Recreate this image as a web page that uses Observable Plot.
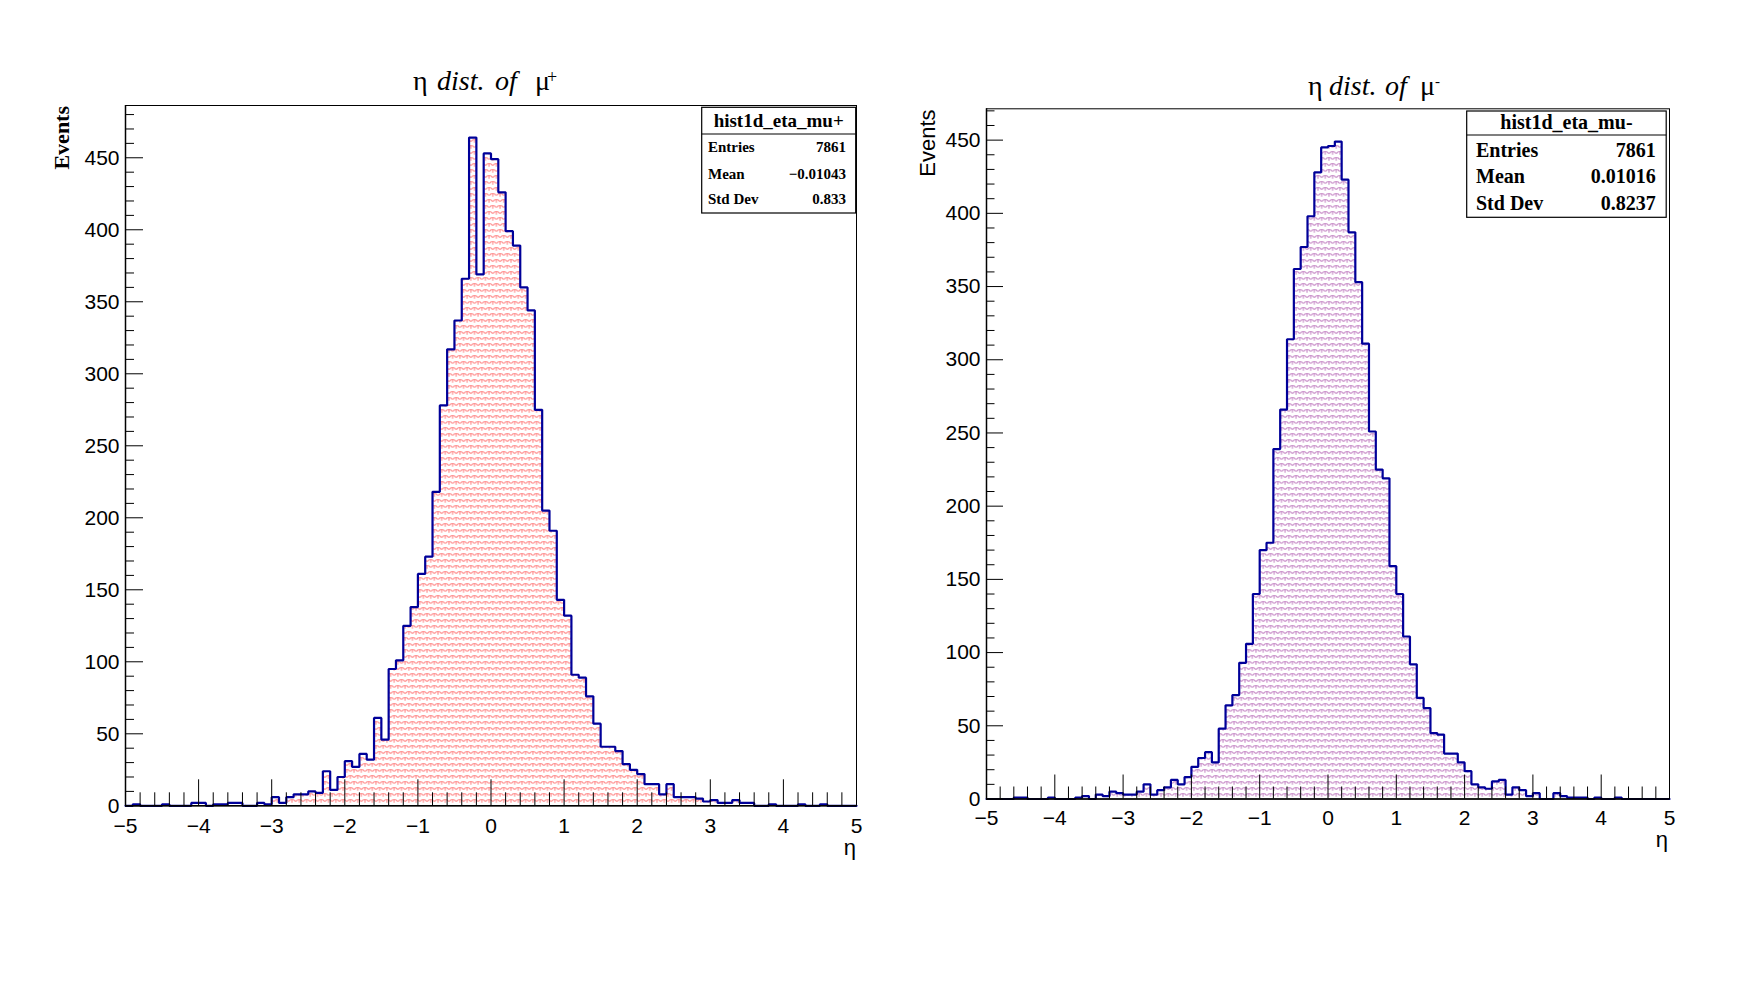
<!DOCTYPE html>
<html><head><meta charset="utf-8">
<script src="https://cdn.jsdelivr.net/npm/d3@7"></script>
<script src="https://cdn.jsdelivr.net/npm/@observablehq/plot@0.6"></script>
<style>
html,body{margin:0;padding:0;background:#fff;}
#root{position:relative;width:1743px;height:990px;overflow:hidden;background:#fff;}
#root > svg{position:absolute;top:0;}
</style></head><body><div id="root"></div>
<script>
// ---- data ----
const etaBinLow = [-5.0,-4.9,-4.8,-4.7,-4.6,-4.5,-4.4,-4.3,-4.2,-4.1,
  -4.0,-3.9,-3.8,-3.7,-3.6,-3.5,-3.4,-3.3,-3.2,-3.1,
  -3.0,-2.9,-2.8,-2.7,-2.6,-2.5,-2.4,-2.3,-2.2,-2.1,
  -2.0,-1.9,-1.8,-1.7,-1.6,-1.5,-1.4,-1.3,-1.2,-1.1,
  -1.0,-0.9,-0.8,-0.7,-0.6,-0.5,-0.4,-0.3,-0.2,-0.1,
  0.0,0.1,0.2,0.3,0.4,0.5,0.6,0.7,0.8,0.9,
  1.0,1.1,1.2,1.3,1.4,1.5,1.6,1.7,1.8,1.9,
  2.0,2.1,2.2,2.3,2.4,2.5,2.6,2.7,2.8,2.9,
  3.0,3.1,3.2,3.3,3.4,3.5,3.6,3.7,3.8,3.9,
  4.0,4.1,4.2,4.3,4.4,4.5,4.6,4.7,4.8,4.9];
const binWidth = 0.1;

const muPlusCounts = [0,1,0,0,0,1,0,0,0,2,
  2,0,1,1,2,2,0,0,2,1,
  6,2,6,8,8,10,9,24,11,20,
  31,27,36,32,61,46,95,101,125,138,
  161,173,218,278,317,337,366,464,369,453,
  449,426,399,389,360,344,275,205,191,143,
  132,91,89,76,57,41,41,38,29,25,
  22,15,15,8,15,6,6,6,5,3,
  4,2,2,4,2,2,0,0,1,0,
  0,0,1,0,0,1,0,0,0,0];

const muMinusCounts = [0,0,0,0,1,1,0,0,0,1,
  0,0,0,1,2,0,3,2,5,4,
  3,3,5,10,3,6,8,13,10,15,
  22,28,32,25,48,64,71,93,106,140,
  170,175,239,266,314,362,377,398,428,445,
  446,449,423,387,353,311,251,225,219,159,
  140,111,92,69,62,45,44,31,31,25,
  19,10,8,7,12,13,3,8,6,2,
  4,0,0,4,2,1,1,1,0,1,
  0,0,1,0,0,0,0,0,0,0];

const xTicks = [-5,-4,-3,-2,-1,0,1,2,3,4,5];
const xTickLabels = ["\u22125","\u22124","\u22123","\u22122","\u22121","0","1","2","3","4","5"];
const yTicks = [0,50,100,150,200,250,300,350,400,450];
const yTickLabels = ["0","50","100","150","200","250","300","350","400","450"];

const statLabels = ["Entries","Mean","Std Dev"];
const statsPlus = ["7861","\u22120.01043","0.833"];
const statsMinus = ["7861","0.01016","0.8237"];
const histNames = ["hist1d_eta_mu+","hist1d_eta_mu-"];

// ---- drawing ----
const root = document.getElementById("root");
const SANS = "'Liberation Sans', Arial, Helvetica, sans-serif";
const SERIF = "'Liberation Serif', 'Times New Roman', Times, serif";

function histPlot(cfg) {
  const rows = etaBinLow.map((lo, i) => ({x1: lo, x2: lo + binWidth, y: cfg.counts[i]}));
  const outline = rows.flatMap(d => [{x: d.x1, y: d.y}, {x: d.x2, y: d.y}]);
  const fw = cfg.frameRight - cfg.frameLeft;
  const fh = cfg.frameBottom - cfg.frameTop;
  const xMinor = d3.range(-5, 5.0001, 0.2).map(v => +v.toFixed(1)).filter(v => !xTicks.includes(v));
  const yMinor = d3.range(0, cfg.ymax, 10).filter(v => v % 50 !== 0);
  const svg = Plot.plot({
    width: cfg.width,
    height: cfg.height,
    marginLeft: cfg.frameLeft - cfg.left,
    marginRight: cfg.left + cfg.width - cfg.frameRight,
    marginTop: cfg.frameTop,
    marginBottom: cfg.height - cfg.frameBottom,
    x: {domain: [-5, 5], label: null},
    y: {domain: [0, cfg.ymax], label: null},
    style: {fontFamily: SANS, background: "transparent", overflow: "visible", color: "black"},
    marks: [
      Plot.rectY(rows, {x1: "x1", x2: "x2", y: "y", fill: `url(#${cfg.patId})`, shapeRendering: "crispEdges"}),
      Plot.line(outline, {x: "x", y: "y", stroke: "#000099", strokeWidth: 2.2, strokeLinejoin: "miter"}),
      Plot.frame({stroke: "black", strokeWidth: 1}),
      Plot.ruleX([-5], {stroke: "black", strokeWidth: 1.5}),
      Plot.ruleY([0], {stroke: "black", strokeWidth: 1.5}),
      Plot.tickY(yMinor, {y: d => d, insetRight: fw - cfg.yMinorLen, stroke: "black", strokeWidth: 1}),
      Plot.tickY(yTicks, {y: d => d, insetRight: fw - cfg.yMajorLen, stroke: "black", strokeWidth: 1}),
      Plot.tickX(xMinor, {x: d => d, insetTop: fh - cfg.xMinorLen, stroke: "black", strokeWidth: 1}),
      Plot.tickX(xTicks, {x: d => d, insetTop: fh - cfg.xMajorLen, stroke: "black", strokeWidth: 1}),
      Plot.axisY(yTicks, {tickSize: 0, tickPadding: 6, fontSize: cfg.yFont, label: null,
        tickFormat: d => yTickLabels[yTicks.indexOf(d)]}),
      Plot.axisX(xTicks, {tickSize: 0, tickPadding: cfg.xPad, fontSize: cfg.xFont, label: null,
        tickFormat: d => xTickLabels[xTicks.indexOf(d)]})
    ]
  });
  // scale-like hatch pattern
  const defs = d3.select(svg).insert("defs", ":first-child");
  const pat = defs.append("pattern").attr("id", cfg.patId).attr("patternUnits", "userSpaceOnUse")
    .attr("width", 7.3).attr("height", 12);
  const motif = (cx, cy) => `M${cx-3.2},${cy+2.2} Q${cx-2.8},${cy} ${cx},${cy} Q${cx+2.8},${cy} ${cx+3.2},${cy+2.2} M${cx},${cy} V${cy+3.2}`;
  pat.append("path").attr("d", motif(3.65, 1.5) + motif(0, 7.5) + motif(7.3, 7.5))
    .attr("fill", "none").attr("stroke", cfg.patColor).attr("stroke-width", 1.15);
  svg.style.left = cfg.left + "px";
  root.appendChild(svg);
}

histPlot({counts: muPlusCounts, left: 0, width: 880, height: 990,
  frameLeft: 125, frameRight: 856, frameTop: 105, frameBottom: 805.3, ymax: 486.3,
  patId: "patPlus", patColor: "#ff8f8f",
  yMajorLen: 18, yMinorLen: 9, xMajorLen: 26, xMinorLen: 13, yFont: 21, xFont: 21, xPad: 12});

histPlot({counts: muMinusCounts, left: 880, width: 863, height: 990,
  frameLeft: 986, frameRight: 1669, frameTop: 108.3, frameBottom: 798.5, ymax: 471.4,
  patId: "patMinus", patColor: "#c98fc9",
  yMajorLen: 17, yMinorLen: 8.5, xMajorLen: 24, xMinorLen: 12, yFont: 21, xFont: 21, xPad: 11});

// ---- overlay: titles, axis titles, stats boxes ----
const ov = d3.create("svg").attr("width", 1743).attr("height", 990)
  .style("left", "0px").style("pointer-events", "none");

function title(x, baseline, parts) {
  const t = ov.append("text").attr("y", baseline).attr("font-family", SERIF).attr("font-size", 28).attr("fill", "black");
  parts.forEach(p => {
    const s = t.append("tspan").attr("x", p.x).attr("y", p.y ?? baseline).text(p.t);
    if (p.italic) s.attr("font-style", "italic");
    if (p.size) s.attr("font-size", p.size);
  });
}
title(413, 90, [
  {t: "\u03b7", x: 413}, {t: "dist.", x: 437, italic: true}, {t: "of", x: 495, italic: true},
  {t: "\u03bc", x: 535}, {t: "+", x: 547, y: 83, size: 18}
]);
title(1308, 95, [
  {t: "\u03b7", x: 1308}, {t: "dist.", x: 1329, italic: true}, {t: "of", x: 1385, italic: true},
  {t: "\u03bc", x: 1420}, {t: "-", x: 1435, y: 86, size: 15}
]);

// y axis titles
ov.append("text").attr("transform", "translate(69,106) rotate(-90)").attr("text-anchor", "end")
  .attr("font-family", SERIF).attr("font-weight", "bold").attr("font-size", 22).text("Events");
ov.append("text").attr("transform", "translate(935,109.5) rotate(-90)").attr("text-anchor", "end")
  .attr("font-family", SANS).attr("font-size", 22).text("Events");
// x axis titles
ov.append("text").attr("x", 856).attr("y", 855).attr("text-anchor", "end")
  .attr("font-family", SANS).attr("font-size", 22).text("\u03b7");
ov.append("text").attr("x", 1668).attr("y", 847).attr("text-anchor", "end")
  .attr("font-family", SANS).attr("font-size", 22).text("\u03b7");

function statsBox(b, name, values) {
  const g = ov.append("g").attr("font-family", SERIF).attr("font-weight", "bold");
  g.append("rect").attr("x", b.x).attr("y", b.y).attr("width", b.w).attr("height", b.h)
    .attr("fill", "white").attr("stroke", "black").attr("stroke-width", 1.2);
  g.append("line").attr("x1", b.x).attr("x2", b.x + b.w).attr("y1", b.sep).attr("y2", b.sep)
    .attr("stroke", "black").attr("stroke-width", 1.2);
  g.append("text").attr("x", b.x + b.w / 2).attr("y", b.hb).attr("text-anchor", "middle")
    .attr("font-size", b.hs).text(name);
  statLabels.forEach((lab, i) => {
    g.append("text").attr("x", b.lx).attr("y", b.rows[i]).attr("font-size", b.rs).text(lab);
    g.append("text").attr("x", b.vx).attr("y", b.rows[i]).attr("font-size", b.rs)
      .attr("text-anchor", "end").text(values[i]);
  });
}
statsBox({x: 701.7, y: 107.3, w: 154, h: 105.7, sep: 134, hb: 126.5, hs: 19,
  lx: 708, vx: 846, rows: [151.7, 179, 204], rs: 15}, histNames[0], statsPlus);
statsBox({x: 1466.7, y: 111, w: 199.5, h: 106.3, sep: 135, hb: 129, hs: 20,
  lx: 1476, vx: 1655.7, rows: [156.7, 183.3, 210], rs: 20}, histNames[1], statsMinus);

root.appendChild(ov.node());
</script>
</body></html>
